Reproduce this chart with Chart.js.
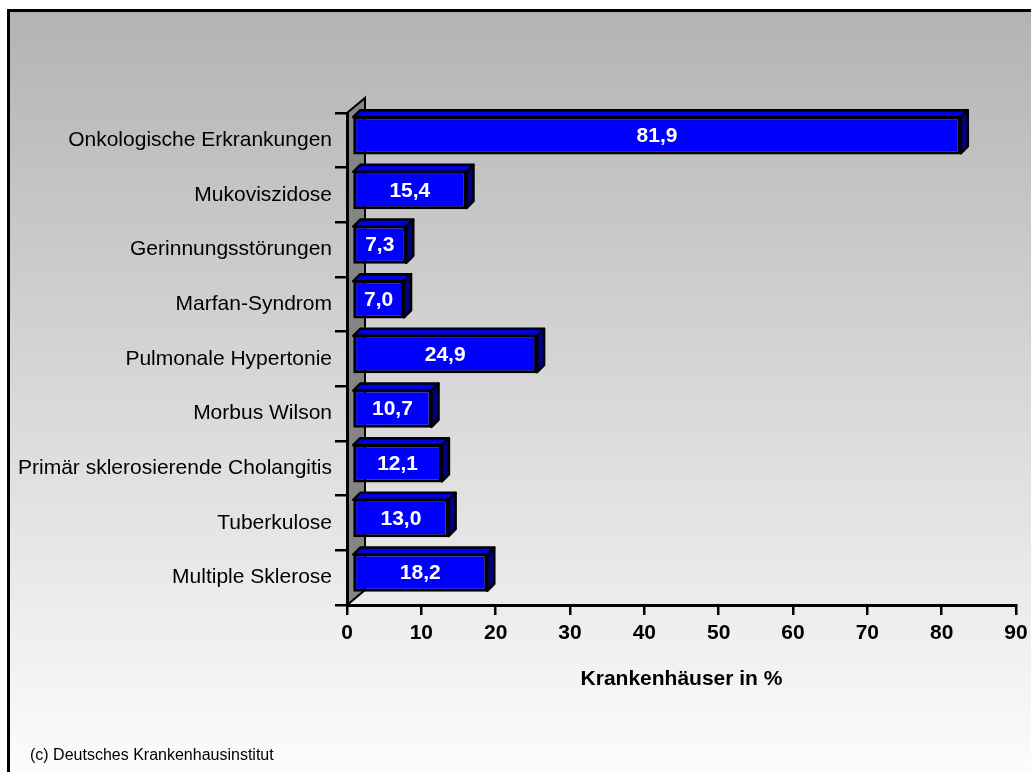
<!DOCTYPE html>
<html>
<head>
<meta charset="utf-8">
<script src="https://cdn.jsdelivr.net/npm/chart.js@4/dist/chart.umd.min.js"></script>
<style>
  html, body { margin:0; padding:0; background:#fff; overflow:hidden; }
  .frame {
    position:absolute; left:7px; top:9px; width:1040px; height:790px;
    border:3px solid #000;
    background: linear-gradient(#b3b3b3, #ffffff);
  }
  #chart { position:absolute; left:0; top:0; }
</style>
</head>
<body>
<div class="frame"></div>
<canvas id="chart" width="1031" height="772"></canvas>
<script>
// chart data
const categories = [
  'Onkologische Erkrankungen',
  'Mukoviszidose',
  'Gerinnungsstörungen',
  'Marfan-Syndrom',
  'Pulmonale Hypertonie',
  'Morbus Wilson',
  'Primär sklerosierende Cholangitis',
  'Tuberkulose',
  'Multiple Sklerose'
];
const values = [81.9, 15.4, 7.3, 7.0, 24.9, 10.7, 12.1, 13.0, 18.2];
const xTicks = [0, 10, 20, 30, 40, 50, 60, 70, 80, 90];

// 3d look
const SHIFT = 5;   // front face offset from axis plane
const DEPTH = 7;   // bar depth
const WALL = { dx: 18, dy: 15 };

function fmt(v){ return v.toFixed(1).replace('.', ','); }

const threeD = {
  id: 'threeD',
  beforeDraw(chart){
    const {ctx, chartArea:a} = chart;
    ctx.save();
    ctx.beginPath();
    ctx.moveTo(a.left, a.bottom);
    ctx.lineTo(a.left, a.top);
    ctx.lineTo(a.left + WALL.dx, a.top - WALL.dy);
    ctx.lineTo(a.left + WALL.dx, a.bottom - WALL.dy);
    ctx.closePath();
    ctx.fillStyle = '#858585';
    ctx.fill();
    ctx.strokeStyle = '#000';
    ctx.lineWidth = 2;
    ctx.stroke();
    ctx.restore();
  },
  beforeDatasetDraw(chart, args){
    const ctx = chart.ctx;
    ctx.save();
    ctx.translate(SHIFT, -SHIFT);
    ctx.lineWidth = 2.5;
    ctx.lineJoin = 'round';
    ctx.strokeStyle = '#000';
    args.meta.data.forEach(bar => {
      const {x, y, base, height} = bar.getProps(['x','y','base','height'], true);
      const t = y - height/2 + 1, b = y + height/2 - 1;
      // top face
      ctx.beginPath();
      ctx.moveTo(base, t);
      ctx.lineTo(base + DEPTH, t - DEPTH);
      ctx.lineTo(x + DEPTH, t - DEPTH);
      ctx.lineTo(x, t);
      ctx.closePath();
      ctx.fillStyle = '#0000e6';
      ctx.fill(); ctx.stroke();
      // side face
      ctx.beginPath();
      ctx.moveTo(x, t);
      ctx.lineTo(x + DEPTH, t - DEPTH);
      ctx.lineTo(x + DEPTH, b - DEPTH);
      ctx.lineTo(x, b);
      ctx.closePath();
      ctx.fillStyle = '#000080';
      ctx.fill(); ctx.stroke();
    });
  },
  afterDatasetDraw(chart){
    chart.ctx.restore();
  },
  afterDatasetsDraw(chart){
    const ctx = chart.ctx;
    const meta = chart.getDatasetMeta(0);
    ctx.save();
    ctx.fillStyle = '#fff';
    ctx.font = 'bold 21px "Liberation Sans", Arial, sans-serif';
    ctx.textAlign = 'center';
    ctx.textBaseline = 'middle';
    meta.data.forEach((bar, i) => {
      const {x, y, base} = bar.getProps(['x','y','base'], true);
      ctx.fillText(fmt(values[i]), (x + base)/2 + SHIFT, y - SHIFT + 1);
    });
    ctx.restore();
  },
  afterDraw(chart){
    const ctx = chart.ctx;
    ctx.save();
    ctx.fillStyle = '#000';
    ctx.font = '16px "Liberation Sans", Arial, sans-serif';
    ctx.textBaseline = 'middle';
    ctx.fillText('(c) Deutsches Krankenhausinstitut', 30, 756);
    ctx.restore();
  }
};

new Chart(document.getElementById('chart'), {
  type: 'bar',
  data: {
    labels: categories,
    datasets: [{
      data: values,
      backgroundColor: '#0000ff',
      borderColor: '#000',
      borderWidth: 3,
      borderSkipped: false,
      barPercentage: 0.7,
      categoryPercentage: 1,
      clip: false
    }]
  },
  options: {
    indexAxis: 'y',
    responsive: false,
    animation: false,
    devicePixelRatio: 1,
    layout: { padding: { top: 113, right: 15, bottom: 0, left: 0 } },
    plugins: { legend: { display: false }, tooltip: { enabled: false } },
    scales: {
      x: {
        min: 0, max: 90,
        afterFit(s){ s.height = 167; s.paddingLeft = 0; s.paddingRight = 0; },
        afterBuildTicks(s){ s.ticks = xTicks.map(v => ({value: v})); },
        border: { color: '#000', width: 3 },
        grid: { drawOnChartArea: false, drawTicks: true, tickLength: 10, color: '#000', lineWidth: 2.5 },
        ticks: { color: '#000', padding: 6, font: { family: '"Liberation Sans", Arial', size: 21, weight: 'bold' } },
        title: {
          display: true, text: 'Krankenhäuser in %', color: '#000',
          font: { family: '"Liberation Sans", Arial', size: 21, weight: 'bold' },
          padding: { top: 0, bottom: 80 }
        }
      },
      y: {
        afterFit(s){ s.width = 347; s.paddingTop = 0; s.paddingBottom = 0; },
        border: { color: '#000', width: 3 },
        grid: { drawOnChartArea: false, drawTicks: true, tickLength: 12, color: '#000', lineWidth: 2.5 },
        ticks: { color: '#000', padding: 3, font: { family: '"Liberation Sans", Arial', size: 21 } }
      }
    }
  },
  plugins: [threeD]
});
</script>
</body>
</html>
